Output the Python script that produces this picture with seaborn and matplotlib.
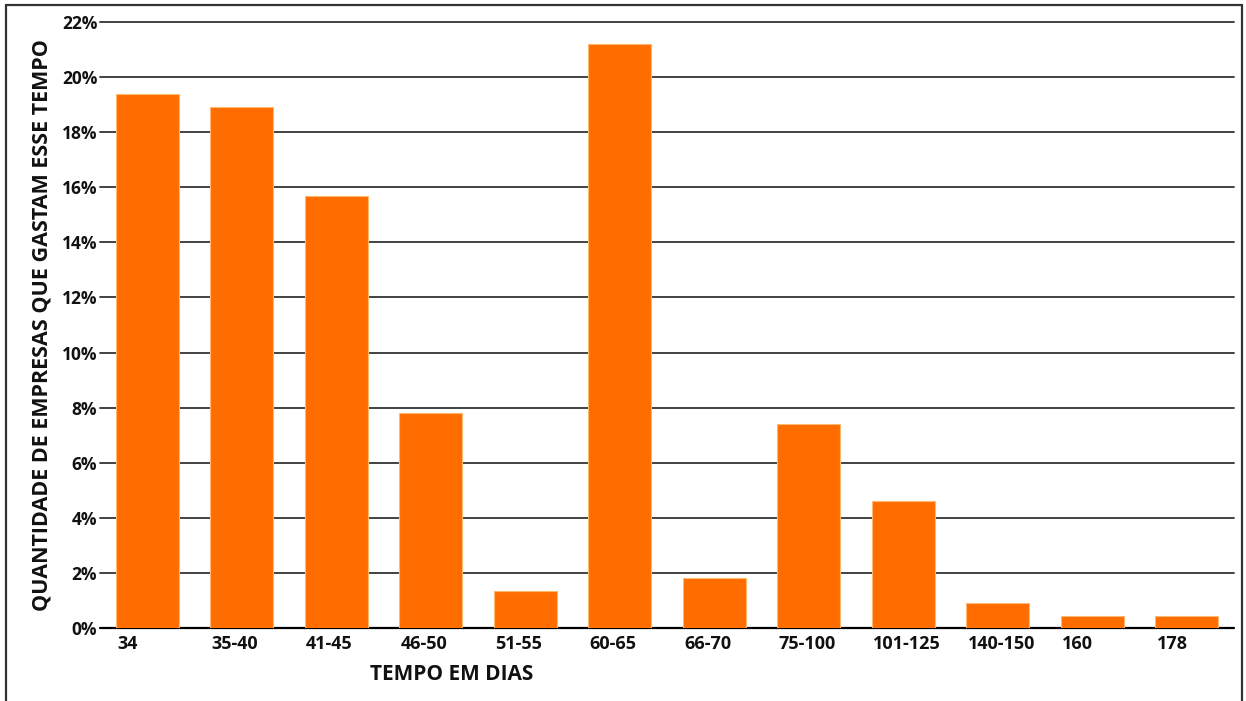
import matplotlib
matplotlib.use("Agg")
import matplotlib.pyplot as plt
import matplotlib.transforms as mtransforms
from matplotlib.lines import Line2D
from matplotlib.ticker import FuncFormatter
import seaborn as sns
import pandas as pd

# Time ranges (days) and share of companies in each range (%)
categories = ["34", "35-40", "41-45", "46-50", "51-55", "60-65",
              "66-70", "75-100", "101-125", "140-150", "160", "178"]
shares = [19.4, 18.9, 15.7, 7.8, 1.35, 21.2, 1.8, 7.4, 4.6, 0.9, 0.45, 0.45]
y_ticks = [0, 2, 4, 6, 8, 10, 12, 14, 16, 18, 20, 22]

df = pd.DataFrame({"tempo": categories, "share": shares})

sns.set_theme(style="white")
plt.rcParams["font.family"] = ["Open Sans", "DejaVu Sans"]

W, H = 1246, 701
fig = plt.figure(figsize=(W / 100, H / 100), dpi=100)
ax = fig.add_axes([100 / W, (H - 628) / H, (1234 - 100) / W, (628 - 22) / H])

sns.barplot(data=df, x="tempo", y="share", ax=ax, color="#FF6D00",
            saturation=1, width=0.665, edgecolor="#FFB870", linewidth=0.8,
            zorder=3)

ax.set_xlim(-0.5, len(categories) - 0.5)
ax.set_ylim(0, 22)
ax.set_yticks(y_ticks)
ax.yaxis.set_major_formatter(FuncFormatter(lambda v, _: f"{v:.0f}%"))

# horizontal grid, drawn below the bars
ax.set_axisbelow(True)
for v in y_ticks:
    ax.axhline(v, color="#333333" if v else "#000000",
               linewidth=1.3 if v else 1.6, zorder=1, clip_on=False)

for s in ax.spines.values():
    s.set_visible(False)

ax.tick_params(axis="y", length=0, pad=2, labelsize=12.5)
ax.tick_params(axis="x", length=0, pad=5, labelsize=13)
for lab in ax.get_yticklabels():
    lab.set_fontweight("bold")
    lab.set_color("#111111")

# category labels start at the left edge of their bar
shift = mtransforms.ScaledTranslation(-0.30, 0, fig.dpi_scale_trans)
for lab in ax.get_xticklabels():
    lab.set_fontweight("bold")
    lab.set_color("#111111")
    lab.set_horizontalalignment("left")
    lab.set_transform(lab.get_transform() + shift)

ax.set_xlabel("TEMPO EM DIAS", fontsize=15, fontweight="bold", color="#111111")
ax.xaxis.set_label_coords((452 - 100) / 1134, -(675 - 628) / 606, transform=ax.transAxes)
ax.xaxis.label.set_verticalalignment("center")

ax.set_ylabel("QUANTIDADE DE EMPRESAS QUE GASTAM ESSE TEMPO", fontsize=15.5,
              fontweight="bold", color="#111111")
ax.yaxis.set_label_coords((42 - 100) / 1134, 0.5, transform=ax.transAxes)
ax.yaxis.label.set_verticalalignment("center")

# outer frame (top, left and right edges)
frame_kw = dict(color="#333333", linewidth=1.6, transform=fig.transFigure)
fig.add_artist(Line2D([6 / W, 1242 / W], [1 - 5 / H, 1 - 5 / H], **frame_kw))
fig.add_artist(Line2D([6 / W, 6 / W], [0, 1 - 5 / H], **frame_kw))
fig.add_artist(Line2D([1242 / W, 1242 / W], [0, 1 - 5 / H], **frame_kw))

fig.savefig("out.png", dpi=100, facecolor="white")
